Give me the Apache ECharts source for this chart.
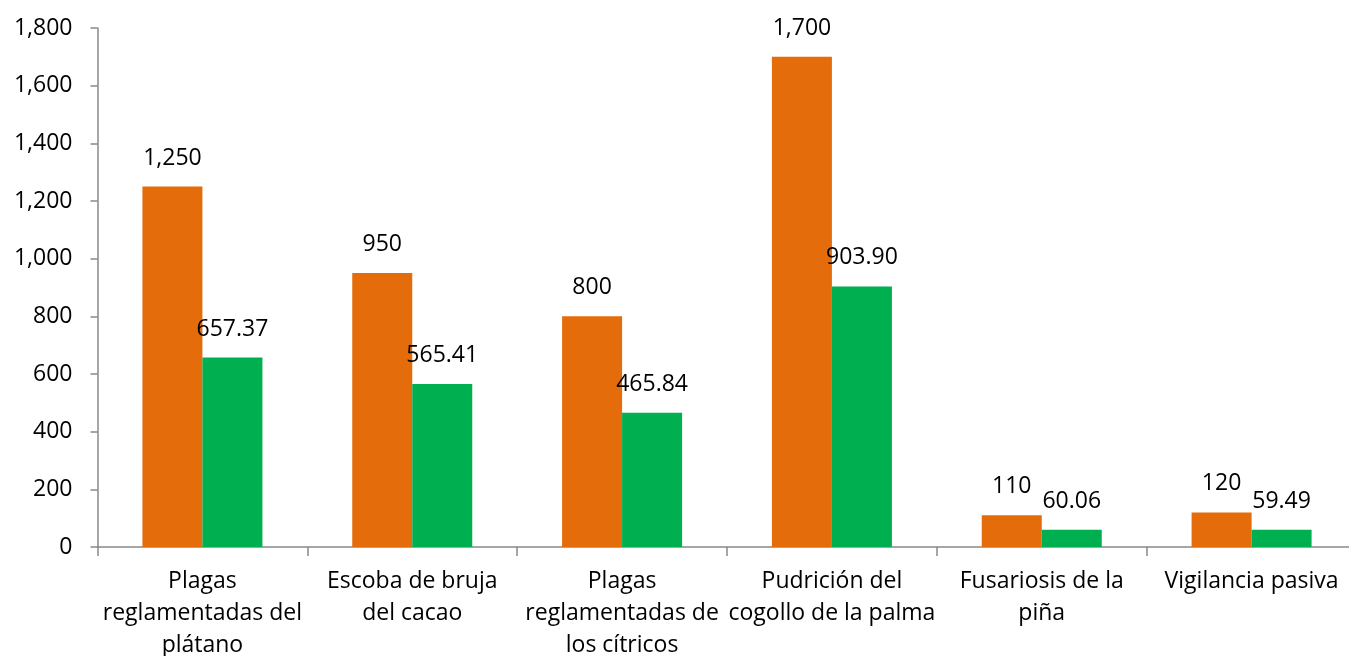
<!DOCTYPE html>
<html>
<head>
<meta charset="utf-8">
<script src="https://cdn.jsdelivr.net/npm/echarts@6/dist/echarts.min.js"></script>
<style>
html,body{margin:0;padding:0;background:#fff;overflow:hidden;}
#chart{width:1349px;height:656px;}
</style>
</head>
<body>
<div id="chart"></div>
<script>
const categories = [
  "Plagas\nreglamentadas del\nplátano",
  "Escoba de bruja\ndel cacao",
  "Plagas\nreglamentadas de\nlos cítricos",
  "Pudrición del\ncogollo de la palma",
  "Fusariosis de la\npiña",
  "Vigilancia pasiva"
];
const seriesOrange = [1250, 950, 800, 1700, 110, 120];
const seriesGreen = [657.37, 565.41, 465.84, 903.90, 60.06, 59.49];
const yTicks = { min: 0, max: 1800, interval: 200 };

const FONT = "Open Sans";
const fmtInt = v => Math.round(v).toLocaleString('en-US');
const fmtDec = v => v.toLocaleString('en-US', {minimumFractionDigits: 2, maximumFractionDigits: 2});

const chart = echarts.init(document.getElementById('chart'));
chart.setOption({
  animation: false,
  grid: { left: 97.5, top: 28, width: 1259, height: 519, containLabel: false, outerBoundsMode: 'none' },
  xAxis: {
    type: 'category',
    data: categories,
    axisLine: { lineStyle: { color: '#898989', width: 1.5 } },
    axisTick: { show: true, length: 9, alignWithLabel: false, lineStyle: { color: '#898989', width: 1.5 } },
    axisLabel: { interval: 0, color: '#000', fontFamily: FONT, fontSize: 23, lineHeight: 32, margin: 18 }
  },
  yAxis: {
    type: 'value',
    min: yTicks.min, max: yTicks.max, interval: yTicks.interval,
    splitLine: { show: false },
    axisLine: { show: true, lineStyle: { color: '#898989', width: 1.5 } },
    axisTick: { show: true, length: 7, lineStyle: { color: '#898989', width: 1.5 } },
    axisLabel: { color: '#000', fontFamily: FONT, fontSize: 23, margin: 25, formatter: v => fmtInt(v) }
  },
  series: [
    {
      type: 'bar', data: seriesOrange, barWidth: 60, barGap: '0%',
      itemStyle: { color: '#E46C0A' },
      label: { show: true, position: 'top', distance: 17, color: '#000', fontFamily: FONT, fontSize: 23, formatter: p => fmtInt(p.value) }
    },
    {
      type: 'bar', data: seriesGreen, barWidth: 60, barGap: '0%',
      itemStyle: { color: '#00B050' },
      label: { show: true, position: 'top', distance: 17, color: '#000', fontFamily: FONT, fontSize: 23, formatter: p => fmtDec(p.value) }
    }
  ]
});
</script>
</body>
</html>
